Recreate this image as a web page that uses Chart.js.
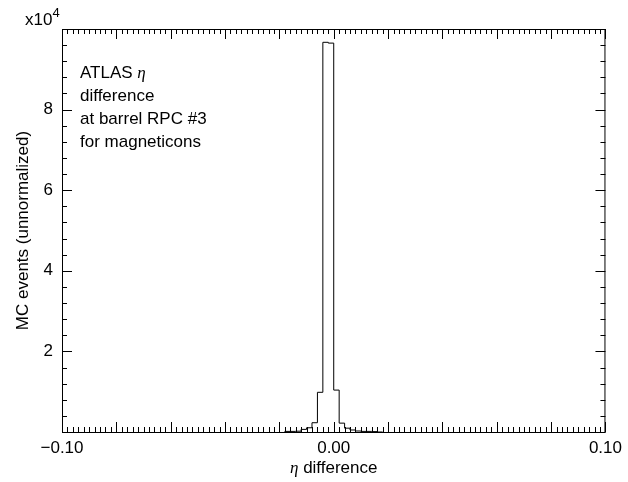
<!DOCTYPE html>
<html>
<head>
<meta charset="utf-8">
<script src="https://cdn.jsdelivr.net/npm/chart.js@4.4.0/dist/chart.umd.min.js"></script>
<style>
  html, body { margin: 0; padding: 0; background: #fff; }
  canvas { display: block; }
</style>
</head>
<body>
<canvas id="etaChart" width="628" height="482"></canvas>
<script>
// histogram bin edges (eta difference) and MC counts per bin
const binEdges = [-0.018, -0.016, -0.014, -0.012, -0.010, -0.008, -0.006, -0.004, -0.002,
                  0.000, 0.002, 0.004, 0.006, 0.008, 0.010, 0.012, 0.014, 0.016, 0.018];
const counts = [50, 150, 150, 200, 650, 1050, 2300, 9850, 96700,
                96500, 10400, 2200, 950, 500, 250, 150, 150, 100];

const xRange = [-0.10, 0.10];
const yRange = [0, 100000];
const xLabelValues = [-0.10, 0.00, 0.10];
const yLabelValues = [20000, 40000, 60000, 80000];

const notes = ["ATLAS", "difference", "at barrel RPC #3", "for magneticons"];

const FONT = "Liberation Sans";
const FS = 17;

// outline of the histogram: start at the baseline, one point per bin, back to the baseline
function histOutline() {
  let pts = [{x: binEdges[0], y: 0}];
  for (let i = 0; i < counts.length; i++) {
    pts.push({x: binEdges[i], y: counts[i]});
  }
  pts.push({x: binEdges[binEdges.length - 1], y: 0});
  return pts;
}

function fmtX(v) {
  let s = Math.abs(v).toFixed(2);
  return v < -1e-9 ? "\u2212" + s : s;
}

// frame, inward ticks on all four sides, and the text
const framePlugin = {
  id: "frame",
  afterDraw(chart) {
    const ctx = chart.ctx;
    const a = chart.chartArea;
    const xs = chart.scales.x, ys = chart.scales.y;
    ctx.save();
    ctx.strokeStyle = "#000";
    ctx.lineWidth = 1;
    ctx.strokeRect(a.left + 0.5, a.top + 0.5, a.right - a.left - 1, a.bottom - a.top);

    ctx.beginPath();
    for (let i = 0; i <= 100; i++) {
      let v = xRange[0] + i * 0.002;
      let len = (i % 10 === 0) ? 10 : 5;
      let px = Math.round(xs.getPixelForValue(v)) + 0.5;
      ctx.moveTo(px, a.bottom); ctx.lineTo(px, a.bottom - len);
      ctx.moveTo(px, a.top); ctx.lineTo(px, a.top + len);
    }
    for (let i = 0; i <= 25; i++) {
      let v = i * 4000;
      let len = (i % 5 === 0) ? 10 : 5;
      let py = Math.round(ys.getPixelForValue(v)) + 0.5;
      ctx.moveTo(a.left, py); ctx.lineTo(a.left + len, py);
      ctx.moveTo(a.right, py); ctx.lineTo(a.right - len, py);
    }
    ctx.stroke();

    ctx.fillStyle = "#000";
    ctx.textBaseline = "alphabetic";

    // exponent label
    ctx.font = FS + "px '" + FONT + "'";
    ctx.textAlign = "left";
    ctx.fillText("x10", 25, 25);
    let w = ctx.measureText("x10").width;
    ctx.font = "13px '" + FONT + "'";
    ctx.fillText("4", 25 + w, 17);

    // x title
    ctx.font = "italic " + FS + "px 'Liberation Serif'";
    let etaW = ctx.measureText("\u03b7").width;
    ctx.font = FS + "px '" + FONT + "'";
    let restW = ctx.measureText(" difference").width;
    let cx = (a.left + a.right) / 2;
    let x0 = cx - (etaW + restW) / 2;
    ctx.font = "italic " + FS + "px 'Liberation Serif'";
    ctx.fillText("\u03b7", x0, 473);
    ctx.font = FS + "px '" + FONT + "'";
    ctx.fillText(" difference", x0 + etaW, 473);

    // y title
    ctx.save();
    ctx.translate(28, (a.top + a.bottom) / 2);
    ctx.rotate(-Math.PI / 2);
    ctx.textAlign = "center";
    ctx.fillText("MC events (unnormalized)", 0, 0);
    ctx.restore();

    // annotation block
    ctx.textAlign = "left";
    let base = [78, 101, 124, 147];
    for (let i = 0; i < notes.length; i++) {
      ctx.font = FS + "px '" + FONT + "'";
      ctx.fillText(notes[i], 80, base[i]);
      if (i === 0) {
        let nw = ctx.measureText(notes[i] + " ").width;
        ctx.font = "italic " + FS + "px 'Liberation Serif'";
        ctx.fillText("\u03b7", 80 + nw, base[i]);
      }
    }
    ctx.restore();
  }
};

const config = {
  type: "line",
  data: {
    datasets: [{
      label: "eta difference",
      data: histOutline(),
      stepped: "after",
      borderColor: "#000",
      borderWidth: 1,
      pointRadius: 0,
      fill: false
    }]
  },
  options: {
    responsive: false,
    animation: false,
    layout: { padding: { left: 0, right: 18, top: 29, bottom: 0 } },
    plugins: { legend: { display: false }, tooltip: { enabled: false } },
    scales: {
      x: {
        type: "linear",
        min: xRange[0],
        max: xRange[1],
        grid: { display: false, drawTicks: false },
        border: { display: false },
        afterBuildTicks: s => { s.ticks = xLabelValues.map(v => ({value: v})); },
        afterFit: s => { s.height = 50; },
        ticks: {
          autoSkip: false,
          maxRotation: 0,
          padding: 6,
          color: "#000",
          font: { family: FONT, size: FS },
          callback: v => fmtX(v)
        }
      },
      y: {
        type: "linear",
        min: yRange[0],
        max: yRange[1],
        grid: { display: false, drawTicks: false },
        border: { display: false },
        afterBuildTicks: s => { s.ticks = yLabelValues.map(v => ({value: v})); },
        afterFit: s => { s.width = 62; },
        ticks: {
          padding: 9,
          color: "#000",
          font: { family: FONT, size: FS },
          callback: v => String(v / 10000)
        }
      }
    }
  },
  plugins: [framePlugin]
};

new Chart(document.getElementById("etaChart").getContext("2d"), config);
</script>
</body>
</html>
